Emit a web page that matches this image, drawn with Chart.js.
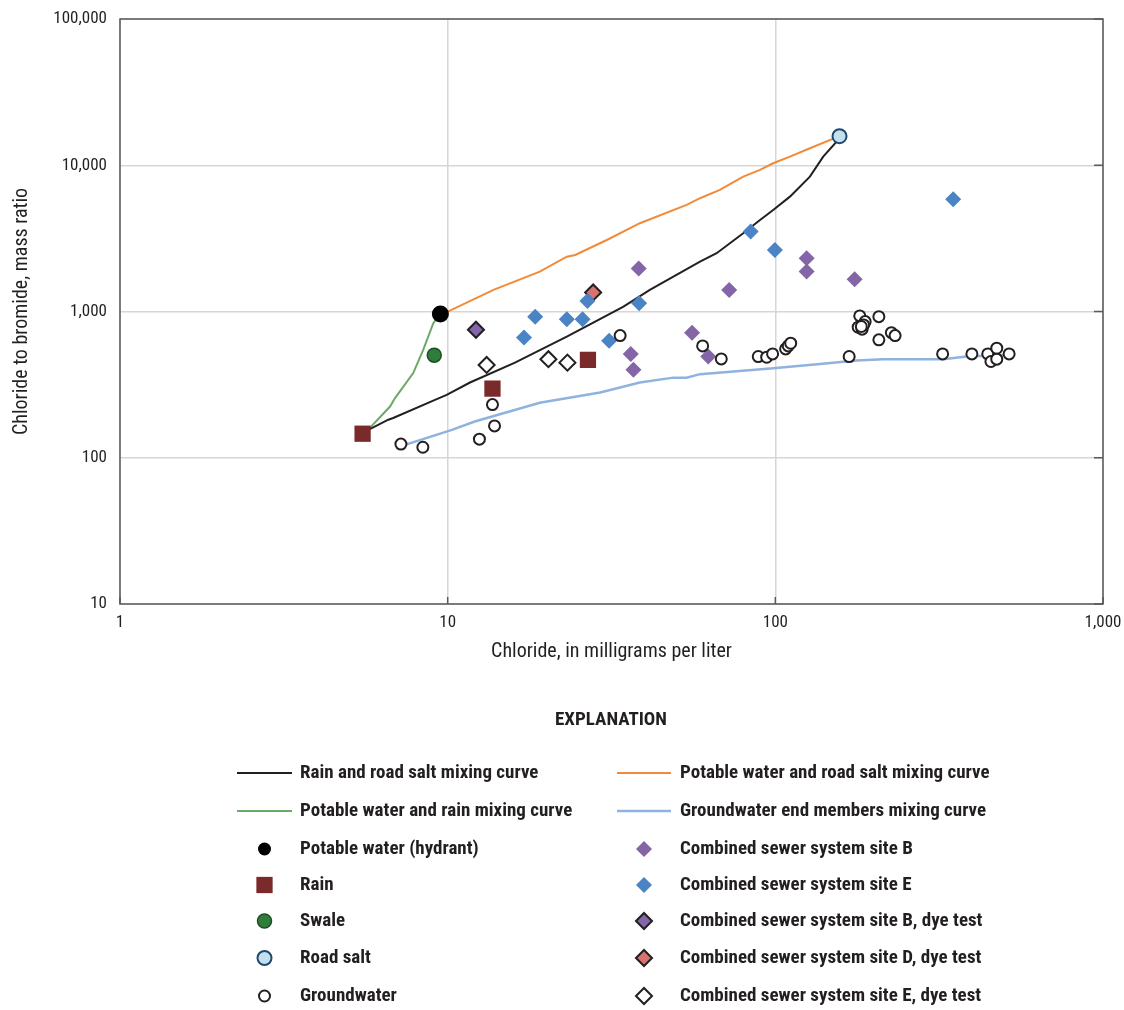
<!DOCTYPE html>
<html>
<head>
<meta charset="utf-8">
<script src="https://cdn.jsdelivr.net/npm/chart.js@4/dist/chart.umd.min.js"></script>
<style>
  body { margin: 0; background: #fff; }
  canvas { display: block; }
</style>
</head>
<body>
<canvas id="chart" width="1124" height="1010"></canvas>
<script>
// values: chloride (mg/L) vs chloride/bromide mass ratio
const hydrantX = [9.5];
const hydrantY = [960];
const rainX = [5.5, 13.7, 26.8];
const rainY = [146, 297, 467];
const swaleX = [9.1];
const swaleY = [503];
const roadSaltX = [157];
const roadSaltY = [15800];
const groundwaterX = [7.2, 8.4, 12.5, 13.7, 13.9, 33.6, 60, 68.4, 88.7, 94.1, 98.1, 107.5, 109.5, 111.4, 168,
    181, 188, 179, 184, 186, 183, 207, 207, 226, 232, 324, 398, 445, 455, 474, 474, 517];
const groundwaterY = [124, 118, 134, 231, 165, 684, 582, 474, 492, 487, 513, 555, 582, 607, 492,
    933, 853, 781, 757, 810, 790, 922, 640, 717, 684, 513, 513, 513, 455, 561, 472, 513];
const siteBX = [38.3, 55.7, 36.2, 36.9, 62.4, 72.3, 124.6, 124.6, 174.6];
const siteBY = [1965, 717, 513, 399, 492, 1405, 2314, 1874, 1663];
const siteEX = [18.5, 17.1, 23.1, 25.8, 26.7, 38.4, 31.1, 84.1, 99.7, 349];
const siteEY = [922, 663, 886, 886, 1182, 1139, 632, 3517, 2636, 5856];
const siteBDyeX = [12.2];
const siteBDyeY = [750];
const siteDDyeX = [27.8];
const siteDDyeY = [1350];
const siteEDyeX = [13.15, 20.3, 23.2];
const siteEDyeY = [431, 472, 447];

// mixing curves
const rainSaltX = [5.6, 5.79, 6.59, 6.82, 9.15, 9.93, 11.7, 16.05, 23.1, 34.4, 41.4, 58.9, 66.2, 79.8, 89.8, 98.5, 110.8, 127.5, 140, 153.8, 157];
const rainSaltY = [155, 157, 182, 187, 249, 269, 327, 447, 673, 1080, 1405, 2193, 2503, 3428, 4227, 4948, 6100, 8360, 11450, 14500, 15800];
const potableSaltX = [9.5, 10.16, 13.8, 19.1, 23.1, 24.5, 30.6, 38.6, 53.6, 58.9, 67.7, 79.8, 89.8, 98.5, 110.8, 127.5, 157];
const potableSaltY = [960, 1014, 1405, 1874, 2371, 2437, 3083, 4015, 5353, 5950, 6780, 8360, 9290, 10320, 11450, 13060, 15800];
const potableRainX = [5.6, 5.79, 6.67, 6.9, 7.85, 8.42, 9.04, 9.5];
const potableRainY = [150, 160, 224, 255, 379, 546, 832, 960];
const gwCurveX = [7.41, 10.3, 12.1, 19.1, 29.2, 38.6, 48.8, 53.6, 58.9, 98.5, 136.8, 177, 213, 325, 383.6, 520];
const gwCurveY = [122.5, 155, 177, 238, 279, 327, 353, 353, 373, 410, 438, 462, 472, 472, 492, 505];

const xTicks = [1, 10, 100, 1000];
const yTicks = [10, 100, 1000, 10000, 100000];

const FONT = '"Roboto Condensed", "Liberation Sans Narrow", "DejaVu Sans Condensed", "Roboto", sans-serif';
const INK = '#231f20';

function pts(xs, ys) {
    return xs.map((x, i) => ({x: x, y: ys[i]}));
}

function curve(label, xs, ys, color, width) {
    return {
        label: label, data: pts(xs, ys), showLine: true, tension: 0,
        borderColor: color, borderWidth: width, pointRadius: 0, order: 1, fill: false
    };
}

function marker(label, xs, ys, style, radius, fill, border, bw) {
    return {
        label: label, data: pts(xs, ys), pointStyle: style, pointRadius: radius,
        pointHoverRadius: radius, backgroundColor: fill, borderColor: border,
        pointBorderWidth: bw, borderWidth: bw, order: 0, showLine: false
    };
}

const datasets = [
    curve('Rain and road salt mixing curve', rainSaltX, rainSaltY, '#231f20', 2),
    curve('Potable water and rain mixing curve', potableRainX, potableRainY, '#6aaa64', 2),
    curve('Potable water and road salt mixing curve', potableSaltX, potableSaltY, '#f18b3a', 2),
    curve('Groundwater end members mixing curve', gwCurveX, gwCurveY, '#8fb3df', 2.5),
    marker('Groundwater', groundwaterX, groundwaterY, 'circle', 5.5, '#ffffff', INK, 2),
    marker('Combined sewer system site B', siteBX, siteBY, 'rectRot', 8, '#8465a8', '#8465a8', 0),
    marker('Combined sewer system site E', siteEX, siteEY, 'rectRot', 8, '#4a84c4', '#4a84c4', 0),
    marker('Combined sewer system site B, dye test', siteBDyeX, siteBDyeY, 'rectRot', 8, '#8465a8', INK, 2),
    marker('Combined sewer system site D, dye test', siteDDyeX, siteDDyeY, 'rectRot', 8, '#d9716e', INK, 2),
    marker('Combined sewer system site E, dye test', siteEDyeX, siteEDyeY, 'rectRot', 8, '#ffffff', INK, 2),
    marker('Rain', rainX, rainY, 'rect', 11.5, '#7a2a2b', '#7a2a2b', 0),
    marker('Swale', swaleX, swaleY, 'circle', 7, '#2f7d3a', '#1d4f25', 1.5),
    marker('Road salt', roadSaltX, roadSaltY, 'circle', 7, '#c4dfee', '#1d4a6e', 2),
    marker('Potable water (hydrant)', hydrantX, hydrantY, 'circle', 8.5, '#000000', '#000000', 0)
];

// legend entries, by column, top to bottom
const legendLeft = ['Rain and road salt mixing curve', 'Potable water and rain mixing curve',
    'Potable water (hydrant)', 'Rain', 'Swale', 'Road salt', 'Groundwater'];
const legendRight = ['Potable water and road salt mixing curve', 'Groundwater end members mixing curve',
    'Combined sewer system site B', 'Combined sewer system site E', 'Combined sewer system site B, dye test',
    'Combined sewer system site D, dye test', 'Combined sewer system site E, dye test'];

const framePlugin = {
    id: 'frame',
    beforeDatasetsDraw(chart) {
        const ctx = chart.ctx;
        const a = chart.chartArea;
        const xs = chart.scales.x, ys = chart.scales.y;
        ctx.save();
        ctx.strokeStyle = '#5a5a5a';
        ctx.lineWidth = 1.5;
        ctx.strokeRect(a.left, a.top, a.right - a.left, a.bottom - a.top);
        ctx.beginPath();
        xTicks.forEach(v => {
            const px = xs.getPixelForValue(v);
            ctx.moveTo(px, a.bottom);
            ctx.lineTo(px, a.bottom - 7);
        });
        yTicks.forEach(v => {
            const py = ys.getPixelForValue(v);
            ctx.moveTo(a.right, py);
            ctx.lineTo(a.right - 9, py);
        });
        ctx.stroke();
        ctx.restore();
    },
    afterDraw(chart) {
        const ctx = chart.ctx;
        ctx.save();
        ctx.fillStyle = INK;
        ctx.textAlign = 'center';
        ctx.textBaseline = 'middle';
        ctx.font = 'bold 19px ' + FONT;
        ctx.fillText('EXPLANATION', 611, 720);

        const rows = [773, 811, 849, 885, 921, 958, 996];
        const cols = [{list: legendLeft, x0: 237, x1: 292, tx: 300},
                      {list: legendRight, x0: 617, x1: 671, tx: 680}];
        ctx.font = 'bold 19px ' + FONT;
        ctx.textAlign = 'left';
        cols.forEach(col => {
            col.list.forEach((label, r) => {
                const ds = chart.data.datasets.find(d => d.label === label);
                const y = rows[r];
                if (ds.showLine) {
                    ctx.strokeStyle = ds.borderColor;
                    ctx.lineWidth = ds.borderWidth;
                    ctx.beginPath();
                    ctx.moveTo(col.x0, y);
                    ctx.lineTo(col.x1, y);
                    ctx.stroke();
                } else {
                    // the hydrant symbol is drawn smaller in the explanation
                    const r0 = ds.pointStyle === 'circle' ? Math.min(ds.pointRadius, 7) : ds.pointRadius;
                    ctx.fillStyle = ds.backgroundColor;
                    ctx.strokeStyle = ds.borderColor;
                    ctx.lineWidth = ds.pointBorderWidth;
                    Chart.helpers.drawPoint(ctx, {
                        pointStyle: ds.pointStyle, rotation: 0,
                        radius: label === 'Potable water (hydrant)' ? 6.5 : r0,
                        borderWidth: ds.pointBorderWidth
                    }, (col.x0 + col.x1) / 2, y);
                }
                ctx.fillStyle = INK;
                ctx.fillText(label, col.tx, y);
            });
        });
        ctx.restore();
    }
};

new Chart(document.getElementById('chart'), {
    type: 'scatter',
    data: {datasets: datasets},
    options: {
        responsive: false,
        animation: false,
        devicePixelRatio: 1,
        layout: {padding: {left: 0, top: 19, right: 21, bottom: 346}},
        plugins: {legend: {display: false}, tooltip: {enabled: false}},
        scales: {
            x: {
                type: 'logarithmic', min: 1, max: 1000,
                afterBuildTicks: s => { s.ticks = xTicks.map(v => ({value: v})); },
                afterFit: s => { s.height = 60; s.paddingLeft = 0; s.paddingRight = 0; },
                grid: {color: '#d6d6d6', lineWidth: 1.5, drawTicks: false},
                border: {display: false},
                ticks: {
                    color: INK, padding: 9, maxRotation: 0, autoSkip: false,
                    font: {family: FONT, size: 17},
                    callback: v => v.toLocaleString('en-US')
                },
                title: {
                    display: true, text: 'Chloride, in milligrams per liter', color: INK,
                    font: {family: FONT, size: 20}, padding: {top: 0, bottom: 0}
                }
            },
            y: {
                type: 'logarithmic', min: 10, max: 100000,
                afterBuildTicks: s => { s.ticks = yTicks.map(v => ({value: v})); },
                afterFit: s => { s.width = 120; s.paddingTop = 0; s.paddingBottom = 0; },
                grid: {color: '#d6d6d6', lineWidth: 1.5, drawTicks: false},
                border: {display: false},
                ticks: {
                    color: INK, padding: 13, autoSkip: false,
                    font: {family: FONT, size: 17},
                    callback: v => v.toLocaleString('en-US')
                },
                title: {
                    display: true, text: 'Chloride to bromide, mass ratio', color: INK,
                    font: {family: FONT, size: 20}, padding: {top: 10, bottom: 0}
                }
            }
        }
    },
    plugins: [framePlugin]
});
</script>
</body>
</html>
